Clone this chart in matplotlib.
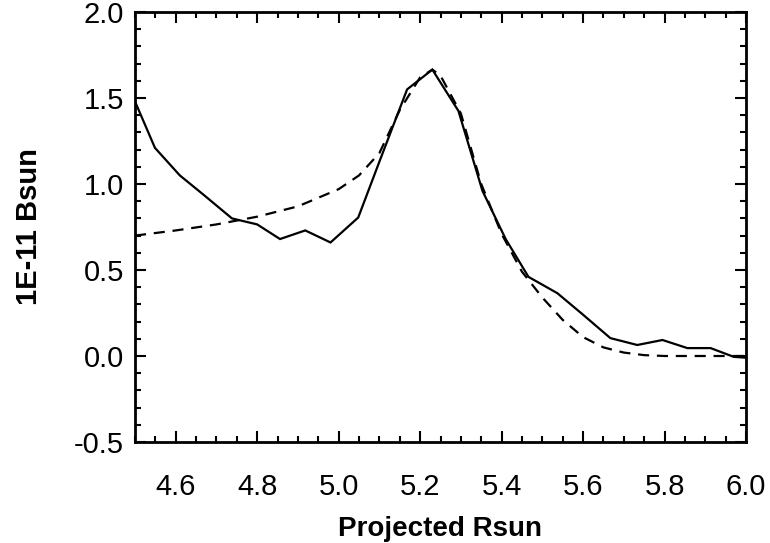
import matplotlib
matplotlib.use("Agg")
import matplotlib.pyplot as plt
from matplotlib.ticker import MultipleLocator

# Observed profile (solid)
obs_x = [4.50, 4.549, 4.61, 4.667, 4.738, 4.80, 4.856, 4.918, 4.98, 5.048,
         5.10, 5.168, 5.23, 5.294, 5.353, 5.41, 5.466, 5.537, 5.60, 5.667,
         5.733, 5.795, 5.856, 5.913, 5.97, 6.00]
obs_y = [1.48, 1.21, 1.05, 0.94, 0.80, 0.765, 0.68, 0.73, 0.66, 0.805,
         1.13, 1.55, 1.665, 1.425, 0.96, 0.68, 0.46, 0.365, 0.24, 0.104,
         0.064, 0.093, 0.046, 0.046, -0.005, -0.01]

# Model profile (dashed)
mod_x = [4.50, 4.60, 4.70, 4.80, 4.90, 5.00, 5.05, 5.10, 5.15, 5.20,
         5.23, 5.25, 5.30, 5.35, 5.40, 5.45, 5.50, 5.55, 5.60, 5.65,
         5.70, 5.75, 5.80, 5.90, 6.00]
mod_y = [0.70, 0.73, 0.765, 0.81, 0.87, 0.97, 1.05, 1.18, 1.43, 1.62,
         1.665, 1.63, 1.41, 1.00, 0.71, 0.49, 0.34, 0.21, 0.11, 0.05,
         0.02, 0.005, 0.0, 0.0, 0.0]

xticks = [4.6, 4.8, 5.0, 5.2, 5.4, 5.6, 5.8, 6.0]
yticks = [-0.5, 0.0, 0.5, 1.0, 1.5, 2.0]

plt.rcParams['font.family'] = ['Liberation Sans', 'DejaVu Sans']

fig = plt.figure(figsize=(7.7, 5.43), dpi=100)
ax = fig.add_axes([135/770, 1 - 442/543, (746-135)/770, (442-12)/543])

ax.plot(obs_x, obs_y, color='black', lw=1.6, solid_joinstyle='miter')
ax.plot(mod_x, mod_y, color='black', lw=1.6, linestyle=(0, (5, 3.5)))

ax.set_xlim(4.5, 6.0)
ax.set_ylim(-0.5, 2.0)
ax.set_xticks(xticks)
ax.set_yticks(yticks)
ax.set_xticklabels([f"{v:.1f}" for v in xticks])
ax.set_yticklabels([f"{v:.1f}" for v in yticks])
ax.xaxis.set_minor_locator(MultipleLocator(0.05))
ax.yaxis.set_minor_locator(MultipleLocator(0.1))

ax.tick_params(which='both', direction='in', top=True, right=True,
               width=1.5, labelsize=21, colors='black')
ax.tick_params(which='major', length=8)
ax.tick_params(which='minor', length=4)
ax.tick_params(axis='x', which='major', pad=22)
ax.tick_params(axis='y', which='major', pad=8)
for s in ax.spines.values():
    s.set_linewidth(2)

ax.set_xlabel('Projected Rsun', fontsize=20, fontweight='bold', labelpad=11)
ax.set_ylabel('1E-11 Bsun', fontsize=21, fontweight='bold', labelpad=22)

fig.savefig('out.png', dpi=100)
